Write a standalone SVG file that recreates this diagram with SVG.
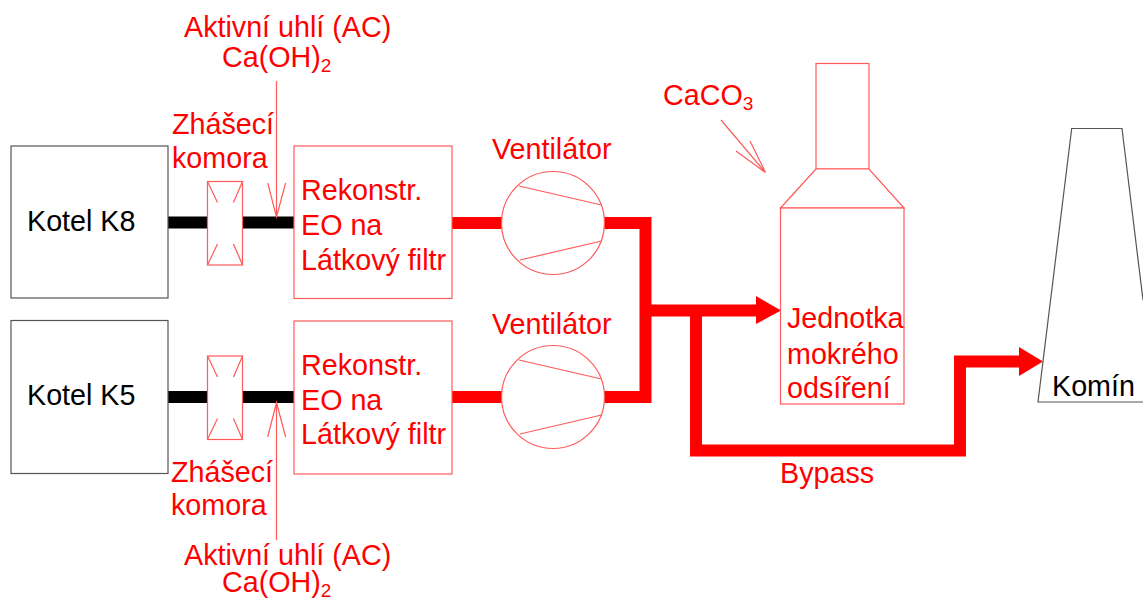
<svg xmlns="http://www.w3.org/2000/svg" width="1143" height="598" viewBox="0 0 1143 598">
<defs>
<style>
text{font-family:"Liberation Sans",Arial,sans-serif;font-size:28.700px;fill:#f00}
text.k{fill:#000}
.sub{font-size:19px}
.t{fill:#fff;stroke:#ff5a5a;stroke-width:1.200}
.l{fill:none;stroke:#ff5a5a;stroke-width:1.200}
.g{fill:#fff;stroke:#555;stroke-width:1.200}
.bk{fill:none;stroke:#000;stroke-width:12}
.rd{fill:none;stroke:#f00;stroke-width:12}
.ah{fill:#f00}
</style>
<g id="fanShape">
<circle class="t" cx="0" cy="0" r="51.500"/>
<path class="l" d="M-34 -37L48.500 -18M-33 37L48.500 18"/>
</g>
<g id="chamberShape">
<rect class="t" x="0" y="0" width="35" height="83.500"/>
<path class="l" d="M0 0L10 21M35 0L26 21M0 83.500L10 62.500M35 83.500L26 62.500"/>
</g>
</defs>
<rect width="1143" height="598" fill="#fff"/>
<g id="connectors">
<path class="bk" d="M168 222.500H207M242 222.500H294M168 397H207M242 397H294"/>
<path class="rd" d="M452 223H502M604 223H645.500V397H604M452 397H502M645.500 310.500H756M696 310.500V450.500H960V361.500H1019"/>
<path class="ah" d="M756 296L781 310.500L756 324Z"/>
<path class="ah" d="M1019 347L1043 361.500L1019 376Z"/>
<path class="l" d="M276.500 81V217M267.700 183L276.500 217L285.600 183"/>
<path class="l" d="M276.500 540V402.500M267.700 437L276.500 402.500L285.600 437"/>
<path class="l" d="M721 120L765.500 172.500M750 141L765.500 172.500L736 151"/>
</g>
<g id="kotel-k8"><rect class="g" x="11" y="146" width="157" height="152"/><text class="k" x="27" y="231">Kotel K8</text></g>
<g id="kotel-k5"><rect class="g" x="11" y="320.500" width="157" height="153"/><text class="k" x="27" y="405">Kotel K5</text></g>
<g id="komora-1"><use href="#chamberShape" x="207.500" y="181.500"/><text x="172" y="134">Zhášecí</text><text x="172" y="168">komora</text></g>
<g id="komora-2"><use href="#chamberShape" x="207.500" y="356"/><text x="171" y="482">Zhášecí</text><text x="171" y="515">komora</text></g>
<g id="filtr-1"><rect class="t" x="294" y="146" width="158" height="152.500"/><text x="301" y="200">Rekonstr.</text><text x="301" y="235">EO na</text><text x="301" y="270">Látkový filtr</text></g>
<g id="filtr-2"><rect class="t" x="294" y="321" width="158" height="153"/><text x="301" y="375">Rekonstr.</text><text x="301" y="410">EO na</text><text x="301" y="444">Látkový filtr</text></g>
<g id="fan-1"><use href="#fanShape" x="553" y="223"/><text x="492" y="159">Ventilátor</text></g>
<g id="fan-2"><use href="#fanShape" x="553" y="397"/><text x="492" y="334">Ventilátor</text></g>
<g id="jednotka"><rect class="t" x="816" y="63.500" width="53" height="105.500"/><path class="t" d="M816 169L780.500 208H904L869 169Z"/><rect class="t" x="780.500" y="208" width="123.500" height="196"/><text x="787" y="328">Jednotka</text><text x="787" y="364">mokrého</text><text x="787" y="398">odsíření</text></g>
<g id="komin"><path class="g" d="M1143 402H1038L1071.700 128.500H1122L1143 300"/><text class="k" x="1052" y="396">Komín</text></g>
<g id="labels">
<text x="184" y="37">Aktivní uhlí (AC)</text>
<text x="222" y="67">Ca(OH)<tspan class="sub" dy="5">2</tspan></text>
<text x="184" y="565">Aktivní uhlí (AC)</text>
<text x="222" y="592">Ca(OH)<tspan class="sub" dy="5">2</tspan></text>
<text x="663" y="105">CaCO<tspan class="sub" dy="5">3</tspan></text>
<text x="780" y="483">Bypass</text>
</g>
</svg>
